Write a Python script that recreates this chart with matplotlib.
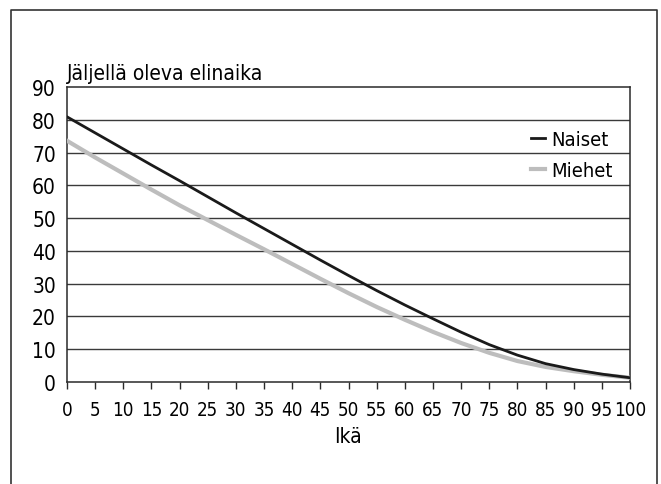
import matplotlib
matplotlib.use("Agg")
import matplotlib.pyplot as plt
from matplotlib.lines import Line2D
from matplotlib import font_manager as fm
import os

ages = [0, 5, 10, 15, 20, 25, 30, 35, 40, 45, 50, 55, 60, 65, 70, 75, 80, 85, 90, 95, 100]
naiset = [80.9, 76.0, 71.1, 66.2, 61.4, 56.5, 51.6, 46.8, 42.0, 37.2, 32.5, 27.9, 23.5, 19.3, 15.2, 11.4, 8.2, 5.6, 3.8, 2.4, 1.3]
miehet = [73.6, 68.5, 63.6, 58.7, 53.9, 49.4, 44.9, 40.5, 36.0, 31.5, 27.1, 22.9, 19.0, 15.3, 11.9, 8.9, 6.4, 4.6, 3.3, 2.2, 1.3]
x_ticks = list(range(0, 101, 5))
y_ticks = list(range(0, 91, 10))
series_labels = ["Naiset", "Miehet"]
title_text = "Jäljellä oleva elinaika"
xlabel_text = "Ikä"

# choose a condensed face if one is installed
font_kw = None
for fam, stretch in [("Liberation Sans Narrow", "normal"), ("Liberation Sans Narrow", "condensed"),
                     ("DejaVu Sans", "condensed"), ("Noto Sans", "condensed"),
                     ("Open Sans", "condensed"), ("Roboto", "condensed")]:
    try:
        path = fm.findfont(fm.FontProperties(family=fam, stretch=stretch), fallback_to_default=False)
    except Exception:
        continue
    name = os.path.basename(path).lower()
    if "narrow" in name or "condensed" in name or "cond" in name:
        font_kw = dict(family=[fam, "DejaVu Sans"], stretch=stretch)
        break

if font_kw is not None:
    plt.rcParams["font.family"] = font_kw["family"]
    plt.rcParams["font.stretch"] = font_kw["stretch"]
    TS, XS, LS = 15, 13.5, 14.5
else:
    plt.rcParams["font.family"] = ["Liberation Sans", "DejaVu Sans"]
    TS, XS, LS = 15, 13, 14

W, H = 661, 485
fig = plt.figure(figsize=(W / 100, H / 100), dpi=100)
ax = fig.add_axes([67 / W, 1 - 383 / H, (630 - 67) / W, (383 - 88) / H])

ax.set_xlim(0, 100)
ax.set_ylim(0, 90)
for y in y_ticks[1:-1]:
    ax.axhline(y, color="#3a3a3a", lw=1.0, zorder=1)

ax.plot(ages, miehet, color="#bdbdbd", lw=3.0, label=series_labels[1], zorder=3)
ax.plot(ages, naiset, color="#1a1a1a", lw=2.0, label=series_labels[0], zorder=4)

for s in ax.spines.values():
    s.set_color("#2a2a2a")
    s.set_linewidth(1.1)

ax.set_xticks(x_ticks)
ax.set_yticks(y_ticks)
ax.tick_params(axis="x", direction="out", length=5, width=1, color="#2a2a2a",
               labelsize=XS, pad=8)
ax.tick_params(axis="y", length=0, labelsize=TS, pad=8)

ax.text(0, 1.012, title_text, transform=ax.transAxes, ha="left", va="bottom", fontsize=TS)
ax.set_xlabel(xlabel_text, fontsize=TS, labelpad=5)

handles = [Line2D([], [], color="#1a1a1a", lw=2.0), Line2D([], [], color="#bdbdbd", lw=3.0)]
leg = ax.legend(handles, series_labels, loc="upper left", bbox_to_anchor=(0.81, 0.882),
                frameon=False, fontsize=LS, handlelength=0.7, handletextpad=0.3,
                labelspacing=0.6, borderaxespad=0)

# outer frame (top, left, right)
fx = [11 / W, 11 / W, 657 / W, 657 / W]
fy = [0.0, 1 - 11 / H, 1 - 11 / H, 0.0]
fig.add_artist(Line2D(fx, fy, color="#333333", lw=1.2, transform=fig.transFigure))

fig.savefig("out.png", dpi=100, facecolor="white")
